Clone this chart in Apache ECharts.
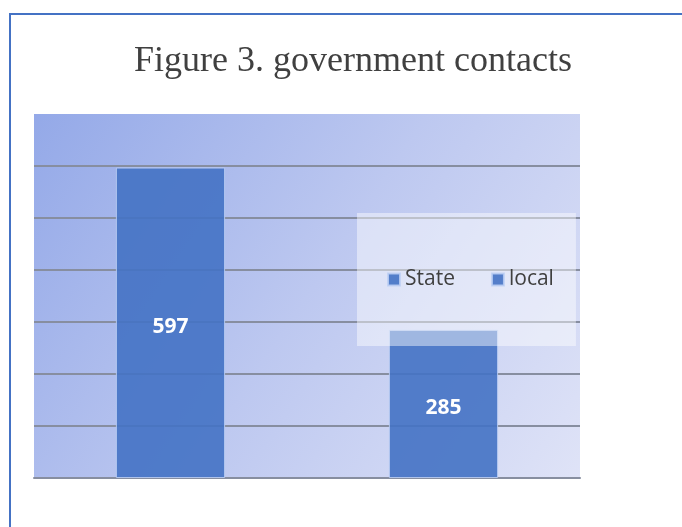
<!DOCTYPE html>
<html lang="en">
<head>
    <meta charset="UTF-8">
    <script src="https://cdn.jsdelivr.net/npm/echarts@6/dist/echarts.min.js"></script>
    <title>Figure 3</title>
    <style>
        html, body { margin: 0; padding: 0; background: #fff; }
    </style>
</head>
<body>
    <div id="chart_main" style="width: 682px; height: 527px"></div>
<script>

    // data
    var categories = ['State', 'local'];
    var stateValues = [597, '-'];
    var localValues = ['-', 285];
    var yTicks = [0, 100, 200, 300, 400, 500, 600, 700];

    var Chart_Main = echarts.init(document.getElementById('chart_main'));

    var barStyle = {
        color: 'rgba(68,114,196,0.9)',
        borderColor: 'rgba(190,208,244,0.85)',
        borderWidth: 1
    };
    var barLabel = {
        show: true,
        position: 'inside',
        offset: [0, 4],
        color: '#fff',
        fontWeight: 'bold',
        fontSize: 21,
        fontFamily: 'Open Sans'
    };

    option = {
        title: {
            text: 'Figure 3. government contacts',
            left: 129,
            top: 39,
            textStyle: {
                fontFamily: 'Liberation Serif',
                fontWeight: 'normal',
                fontSize: 36,
                color: '#404040'
            }
        },
        legend: {
            data: categories,
            left: 357,
            top: 213,
            padding: [56, 22, 56, 30],
            backgroundColor: 'rgba(255,255,255,0.45)',
            icon: 'rect',
            itemWidth: 12,
            itemHeight: 12,
            itemGap: 36,
            textStyle: {
                fontFamily: 'Open Sans',
                fontSize: 21,
                color: '#404040'
            }
        },
        grid: {
            left: 34,
            right: 102,
            top: 114,
            bottom: 49,
            show: true,
            borderWidth: 0,
            backgroundColor: new echarts.graphic.LinearGradient(0, 0, 1, 1, [
                {offset: 0, color: '#94a9e8'},
                {offset: 0.5, color: '#bdc8f0'},
                {offset: 1, color: '#dfe3f7'}
            ])
        },
        xAxis: {
            type: 'category',
            data: categories,
            axisTick: {show: false},
            axisLabel: {show: false},
            axisLine: {lineStyle: {color: '#878ea0', width: 2}}
        },
        yAxis: {
            type: 'value',
            min: yTicks[0],
            max: yTicks[yTicks.length - 1],
            interval: 100,
            axisLabel: {show: false},
            axisLine: {show: false},
            splitLine: {
                showMaxLine: false,
                lineStyle: {color: '#878ea0', width: 2}
            }
        },
        series: [{
            name: 'State',
            type: 'bar',
            stack: 'one',
            barWidth: '40%',
            data: stateValues,
            itemStyle: barStyle,
            label: barLabel
        }, {
            name: 'local',
            type: 'bar',
            stack: 'one',
            barWidth: '40%',
            data: localValues,
            itemStyle: barStyle,
            label: barLabel
        }],
        graphic: [{
            type: 'line',
            shape: {x1: 9, y1: 14, x2: 682, y2: 14},
            style: {stroke: '#4472c4', lineWidth: 2}
        }, {
            type: 'line',
            shape: {x1: 10, y1: 13, x2: 10, y2: 527},
            style: {stroke: '#4472c4', lineWidth: 2}
        }]
    };

    Chart_Main.setOption(option);

</script>
</body>
</html>
